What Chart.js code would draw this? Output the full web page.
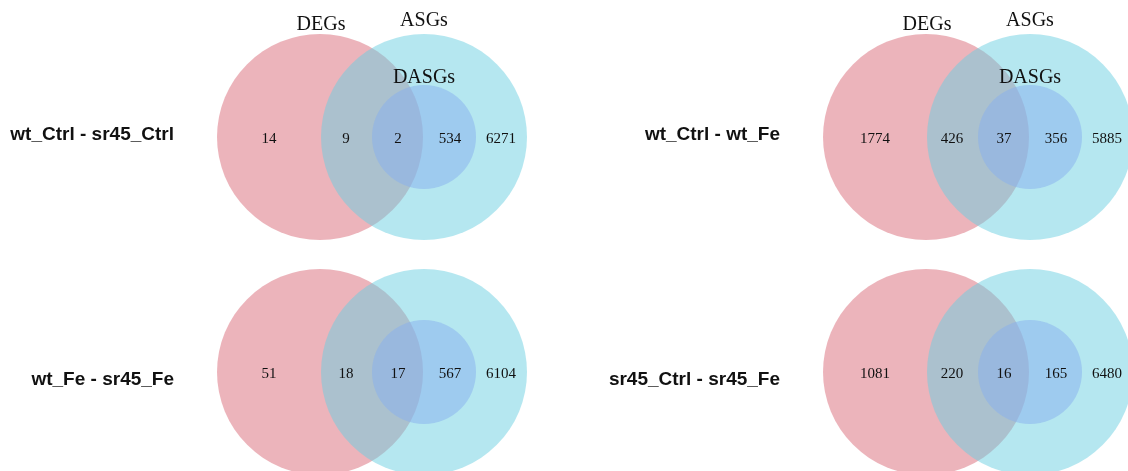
<!DOCTYPE html>
<html>
<head>
<meta charset="utf-8">
<script src="https://cdn.jsdelivr.net/npm/chart.js@4.4.1/dist/chart.umd.min.js"></script>
<style>
  html, body { margin: 0; padding: 0; background: #fff; }
  canvas { display: block; }
</style>
</head>
<body>
<canvas id="venn" width="1128" height="471"></canvas>
<script>
// one panel per comparison, row-major (left, right / top, bottom)
const comparisons = ["wt_Ctrl - sr45_Ctrl", "wt_Ctrl - wt_Fe", "wt_Fe - sr45_Fe", "sr45_Ctrl - sr45_Fe"];
const setNames = ["DEGs", "ASGs", "DASGs"];
const showSetNames = [true, true, false, false];

// region counts, read left to right across each diagram
const degOnly  = [14, 1774, 51, 1081];     // DEGs only
const degAsg   = [9, 426, 18, 220];        // DEGs ∩ ASGs, outside DASGs
const degDasg  = [2, 37, 17, 16];          // DEGs ∩ DASGs
const dasgOnly = [534, 356, 567, 165];     // DASGs not DEGs
const asgOnly  = [6271, 5885, 6104, 6480]; // ASGs only

// layout units (map 1:1 to canvas px)
const W = 1128, H = 471;
const panelX = [320, 926];
const panelY = [137, 372];
const rowLabelDy = [-2, 8];
const R_BIG = 103, R_SMALL = 52, SHIFT = 104;
const numberOffsets = [-51, 26, 78, 130, 181];

const COLORS = {
  deg:  "rgba(217, 105, 119, 0.5)",
  asg:  "rgba(107, 207, 225, 0.5)",
  dasg: "rgba(135, 175, 240, 0.5)",
};

function panelCenter(i) {
  return { x: panelX[i % 2], y: panelY[Math.floor(i / 2)] };
}

const degPts = comparisons.map((_, i) => ({ x: panelCenter(i).x, y: panelCenter(i).y }));
const asgPts = comparisons.map((_, i) => ({ x: panelCenter(i).x + SHIFT, y: panelCenter(i).y }));
const dasgPts = comparisons.map((_, i) => ({ x: panelCenter(i).x + SHIFT, y: panelCenter(i).y }));

// radius in scale units -> pixels (falls back before the scale is laid out)
function scaledRadius(r) {
  return (ctx) => {
    const xs = ctx.chart.scales && ctx.chart.scales.x;
    if (!xs) return r;
    const px = xs.getPixelForValue(r) - xs.getPixelForValue(0);
    return Number.isFinite(px) && px > 0 ? px : r;
  };
}

const labelPlugin = {
  id: "vennLabels",
  afterDatasetsDraw(chart) {
    const { ctx, scales: { x, y } } = chart;
    ctx.save();
    ctx.fillStyle = "#111";
    ctx.textBaseline = "middle";
    comparisons.forEach((name, i) => {
      const c = panelCenter(i);
      const counts = [degOnly[i], degAsg[i], degDasg[i], dasgOnly[i], asgOnly[i]];
      ctx.font = "15px 'Liberation Serif', 'Times New Roman', serif";
      ctx.textAlign = "center";
      counts.forEach((v, k) => {
        ctx.fillText(String(v), x.getPixelForValue(c.x + numberOffsets[k]), y.getPixelForValue(c.y + 2.5));
      });
      if (showSetNames[i]) {
        ctx.font = "20px 'Liberation Serif', 'Times New Roman', serif";
        ctx.fillText(setNames[0], x.getPixelForValue(c.x + 1), y.getPixelForValue(c.y - 112));
        ctx.fillText(setNames[1], x.getPixelForValue(c.x + SHIFT), y.getPixelForValue(c.y - 116));
        ctx.fillText(setNames[2], x.getPixelForValue(c.x + SHIFT), y.getPixelForValue(c.y - 59));
      }
      ctx.font = "bold 19px 'Liberation Sans', Arial, sans-serif";
      ctx.textAlign = "right";
      ctx.fillText(name, x.getPixelForValue(c.x - 146), y.getPixelForValue(c.y + rowLabelDy[Math.floor(i / 2)]));
    });
    ctx.restore();
  }
};

new Chart(document.getElementById("venn"), {
  type: "bubble",
  data: {
    datasets: [
      { label: setNames[0], data: degPts, backgroundColor: COLORS.deg, radius: scaledRadius(R_BIG), order: 3, clip: false },
      { label: setNames[1], data: asgPts, backgroundColor: COLORS.asg, radius: scaledRadius(R_BIG), order: 2, clip: false },
      { label: setNames[2], data: dasgPts, backgroundColor: COLORS.dasg, radius: scaledRadius(R_SMALL), order: 1, clip: false },
    ],
  },
  options: {
    responsive: false,
    animation: false,
    events: [],
    layout: { padding: 0 },
    elements: { point: { borderWidth: 0, hoverBorderWidth: 0 } },
    scales: {
      // bubble overflow pads the chart area by the largest radius, so the
      // axis bounds start/end there to keep 1 unit = 1 px
      x: { type: "linear", min: R_BIG, max: W - R_BIG, display: false },
      y: { type: "linear", min: R_BIG, max: H - R_BIG, reverse: true, display: false },
    },
    plugins: {
      legend: { display: false },
      tooltip: { enabled: false },
    },
  },
  plugins: [labelPlugin],
});
</script>
</body>
</html>
